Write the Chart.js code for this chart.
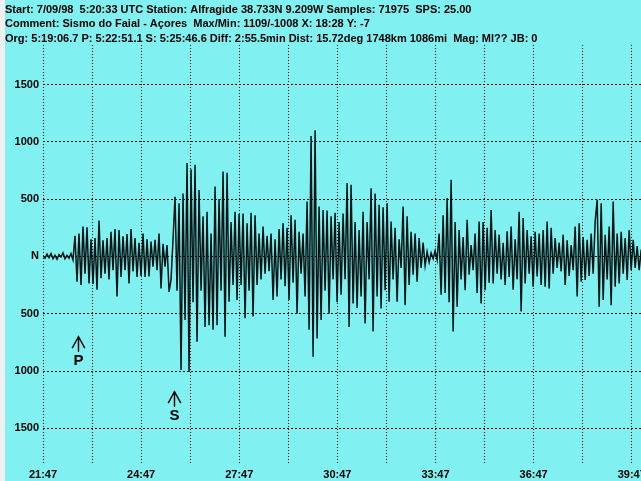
<!DOCTYPE html>
<html><head><meta charset="utf-8">
<script src="https://cdn.jsdelivr.net/npm/chart.js@4.4.1/dist/chart.umd.min.js"></script>
<style>
html,body{margin:0;padding:0;background:#f0f0f0;overflow:hidden;width:641px;height:481px;}
#wrap{position:absolute;left:5px;top:0;width:636px;height:481px;background:#80f0f0;}
canvas{display:block;}
</style></head><body>
<div id="wrap"><canvas id="c" width="636" height="481"></canvas></div>
<script>
// Header text
const headerLines = [
  "Start: 7/09/98  5:20:33 UTC Station: Alfragide 38.733N 9.209W Samples: 71975  SPS: 25.00",
  "Comment: Sismo do Faial - A\u00e7ores  Max/Min: 1109/-1008 X: 18:28 Y: -7",
  "Org: 5:19:06.7 P: 5:22:51.1 S: 5:25:46.6 Diff: 2:55.5min Dist: 15.72deg 1748km 1086mi  Mag: Ml?? JB: 0"
];

// Time axis: seconds after 5:21:47
const xTickLabels = ['21:47','24:47','27:47','30:47','33:47','36:47','39:47'];
const xGridSeconds = [0,90,180,270,360,450,540,630,720,810,900,990,1080];
const yTickValues = [-1500,-1000,-500,0,500,1000,1500];
const yTickLabels = ['1500','1000','500','N','500','1000','1500'];

// Phase markers
const phaseNames = ['P','S'];
const phaseSeconds = [64.1, 239.6];
const phaseArrowLevel = [-700, -1180];

// Waveform (counts) at a fixed sampling interval
const sampleIntervalSec = 3.67;
const preEventCounts = [5,-15,20,-10,25,-20,10,-25,15,-5,30,-20,10,-15,25,-30];
const pWaveCounts = [180,-220,200,-250,260,-150,255,-235,150,-240,160,-290,313,-190,140,-150,160,-200,215,-120,240,-350,230,-180,175,-120,195,-235,240,-130,160,-180,120,
  -170,200,-180,150,-175,130,-90,145,-120,200,-280,110,-90,100,-310];
const sWaveCounts = [-200,150,520,-300,465,-990,550,-555,815,-1008,760,-400,800,-745,580,-300,350,-615,390,-600,200,-640,610,-600,500,-300,740,-700,730,-395,300,-250,390,-380,370,
  -250,375,-540,290,-300,380,-525,360,-250,200,
  -200,260,-150,180,-130,200,-380,150,-350,240,-200,290,-260,250,
  -380,360,-230,320,-500,215,-150,200,-350,480];
const surfaceCounts = [-640,1050,-875,1100,-715,435,-555,405,
  -300,400,-500,350,-200,380,-400,300,
  -335,375,-200,640,-615,625,-410,300,-450,
  230,-350,390,-585,300,-200,595,-655,550,-350,450,-455,430,
  -295,465,-395,305,-200,250,-395,150,-100,435,-425,350,-250,
  215,-160,200,-220,160,-100,120,-80,
  40,-50,30,-20,50,-30];
const codaCounts = [200,-335,360,-320,510,-400,670,-655,300,-440,
  230,-200,170,-295,320,-160,100,-120,200,-320,305,-410,300,
  -295,250,-230,405,-235,
  230,-150,190,-200,120,-250,220,-180,260,-290,150,-200,
  390,-480,335,
  -235,230,-150,175,-265,215,-175,200,
  -250,230,-265,305,-280,250,-150,
  160,-100,120,-130,190,-250,140,-170,100,-120,
  260,-350,290,-220,170,
  -205,145,-170,200,-150,
  305,495,-440,465,-380,190,-200,260,-425,480,-265,200,
  -235,215,-150,160,-205,230,
  -120,145,-100,90,-120,60];

const counts = [].concat(preEventCounts, pWaveCounts, sWaveCounts, surfaceCounts, codaCounts);
const points = counts.map((v, i) => ({x: i * sampleIntervalSec, y: v}));

const FONT = '"Liberation Sans", Arial, sans-serif';
Chart.defaults.font.family = FONT;
Chart.defaults.color = '#000';

const phasePlugin = {
  id: 'phases',
  afterDatasetsDraw(chart) {
    const ctx = chart.ctx, xs = chart.scales.x, ys = chart.scales.y;
    ctx.save();
    ctx.strokeStyle = '#000';
    ctx.fillStyle = '#000';
    ctx.lineWidth = 1.4;
    phaseNames.forEach((name, i) => {
      const x = Math.round(xs.getPixelForValue(phaseSeconds[i])) + 0.5;
      const y = ys.getPixelForValue(phaseArrowLevel[i]);
      ctx.beginPath();
      ctx.moveTo(x, y); ctx.lineTo(x, y + 15);
      ctx.moveTo(x - 6.3, y + 11.5); ctx.lineTo(x, y); ctx.lineTo(x + 6.3, y + 11.5);
      ctx.stroke();
      ctx.font = 'bold 15px ' + FONT;
      ctx.textAlign = 'center';
      ctx.textBaseline = 'middle';
      ctx.fillText(name, x, y + 24);
    });
    ctx.restore();
  }
};

new Chart(document.getElementById('c'), {
  type: 'line',
  data: {
    datasets: [{
      data: points,
      borderColor: '#061414',
      borderWidth: 1.5,
      pointRadius: 0,
      tension: 0,
      fill: false
    }]
  },
  options: {
    responsive: false,
    animation: false,
    devicePixelRatio: 1,
    parsing: false,
    layout: {padding: 0},
    plugins: {
      legend: {display: false},
      tooltip: {enabled: false},
      title: {
        display: true,
        text: headerLines,
        align: 'start',
        color: '#000',
        font: {family: FONT, size: 11, weight: 'bold', lineHeight: '14.5px'},
        padding: {top: 2.5, bottom: -1}
      }
    },
    scales: {
      x: {
        type: 'linear',
        min: 0,
        max: 1097,
        afterBuildTicks(scale) { scale.ticks = xGridSeconds.map(v => ({value: v})); },
        afterFit(scale) { scale.height = 16; scale.paddingLeft = 0; scale.paddingRight = 0; },
        ticks: {
          autoSkip: false,
          maxRotation: 0,
          padding: 3,
          color: '#000',
          font: {size: 11, weight: 'bold'},
          callback(value) { return value % 180 === 0 ? xTickLabels[value / 180] : ''; }
        },
        grid: {color: '#000', lineWidth: 1, drawTicks: false},
        border: {display: false, dash: [1, 2]}
      },
      y: {
        type: 'linear',
        min: -1820,
        max: 1845,
        afterBuildTicks(scale) { scale.ticks = yTickValues.map(v => ({value: v})); },
        afterFit(scale) { scale.width = 38; scale.paddingTop = 0; scale.paddingBottom = 0; },
        ticks: {
          padding: 4,
          color: '#000',
          font: {size: 11, weight: 'bold'},
          callback(value, index) { return yTickLabels[yTickValues.indexOf(value)]; }
        },
        grid: {color: '#000', lineWidth: 1, drawTicks: false},
        border: {display: false, dash: [2, 2]}
      }
    }
  },
  plugins: [phasePlugin]
});
</script>
</body></html>
